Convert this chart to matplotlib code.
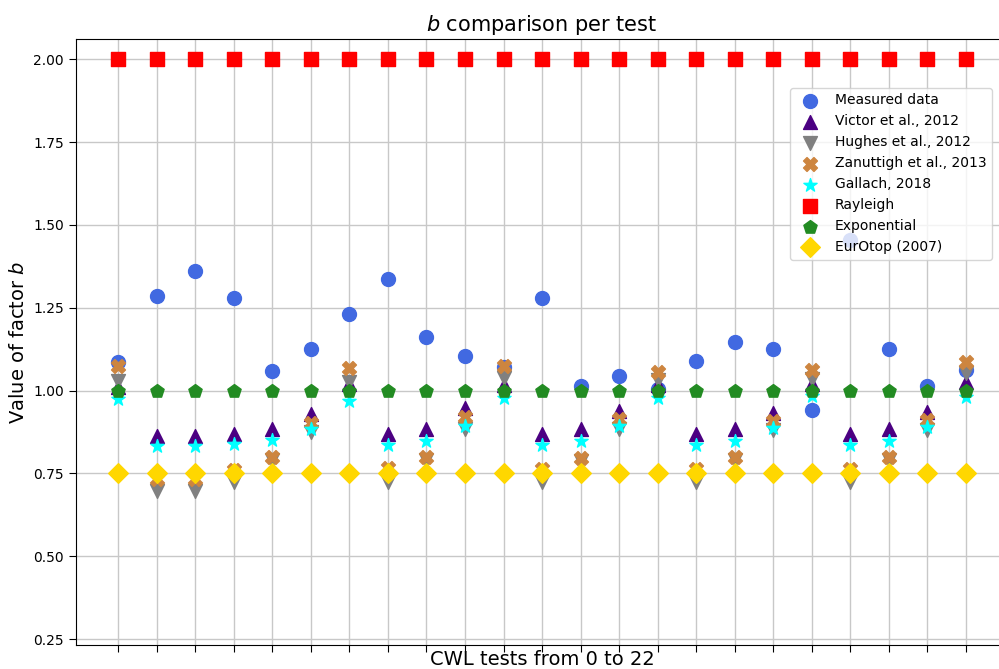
import matplotlib
matplotlib.use("Agg")
import matplotlib.pyplot as plt

# b values per CWL test (0..22)
tests = list(range(23))

measured = [1.085, 1.286, 1.361, 1.279, 1.058, 1.126, 1.231, 1.338, 1.163, 1.105, 1.072, 1.278,
            1.014, 1.043, 1.005, 1.089, 1.146, 1.124, 0.941, 1.454, 1.124, 1.014, 1.062]
victor = [1.011, 0.863, 0.863, 0.868, 0.885, 0.929, 1.020, 0.868, 0.885, 0.946, 1.016, 0.868,
          0.885, 0.939, 1.016, 0.868, 0.885, 0.931, 1.020, 0.868, 0.885, 0.936, 1.026]
hughes = [1.029, 0.696, 0.696, 0.724, 0.790, 0.875, 1.026, 0.724, 0.790, 0.885, 1.037, 0.724,
          0.787, 0.885, 1.031, 0.724, 0.790, 0.880, 1.036, 0.724, 0.790, 0.880, 1.052]
zanuttigh = [1.075, 0.734, 0.734, 0.760, 0.800, 0.902, 1.067, 0.765, 0.800, 0.920, 1.074, 0.762,
             0.797, 0.915, 1.056, 0.762, 0.800, 0.907, 1.061, 0.762, 0.800, 0.910, 1.087]
gallach = [0.974, 0.833, 0.833, 0.838, 0.850, 0.885, 0.968, 0.837, 0.848, 0.893, 0.977, 0.837,
           0.847, 0.893, 0.977, 0.837, 0.848, 0.887, 0.984, 0.837, 0.848, 0.890, 0.980]
rayleigh = [2.0, 2.0, 2.0, 2.0, 2.0, 2.0, 2.0, 2.0, 2.0, 2.0, 2.0, 2.0,
            2.0, 2.0, 2.0, 2.0, 2.0, 2.0, 2.0, 2.0, 2.0, 2.0, 2.0]
exponential = [1.0, 1.0, 1.0, 1.0, 1.0, 1.0, 1.0, 1.0, 1.0, 1.0, 1.0, 1.0,
               1.0, 1.0, 1.0, 1.0, 1.0, 1.0, 1.0, 1.0, 1.0, 1.0, 1.0]
eurotop = [0.75, 0.75, 0.75, 0.75, 0.75, 0.75, 0.75, 0.75, 0.75, 0.75, 0.75, 0.75,
           0.75, 0.75, 0.75, 0.75, 0.75, 0.75, 0.75, 0.75, 0.75, 0.75, 0.75]

series = [
    (measured, 'Measured data', 'o', 'royalblue'),
    (victor, 'Victor et al., 2012', '^', 'indigo'),
    (hughes, 'Hughes et al., 2012', 'v', 'grey'),
    (zanuttigh, 'Zanuttigh et al., 2013', 'X', 'peru'),
    (gallach, 'Gallach, 2018', '*', 'cyan'),
    (rayleigh, 'Rayleigh', 's', 'red'),
    (exponential, 'Exponential', 'p', 'forestgreen'),
    (eurotop, 'EurOtop (2007)', 'D', 'gold'),
]

fig = plt.figure(figsize=(9.99, 6.69), dpi=100)
ax = fig.add_axes([75.7 / 999, 24 / 669, 932.7 / 999, 605.7 / 669])

for vals, label, marker, color in series:
    ax.scatter(tests, vals, s=100, marker=marker, color=color, label=label, zorder=3)

ax.set_xlim(-1.1, 23.1)
ax.set_ylim(0.232, 2.06)
ax.set_xticks(tests)
ax.set_xticklabels([])
ax.set_yticks([0.25, 0.5, 0.75, 1.0, 1.25, 1.5, 1.75, 2.0])
ax.tick_params(axis='both', labelsize=10, length=5)
ax.grid(True, color='#c8c8c8', linewidth=1, zorder=0)
ax.set_axisbelow(True)

ax.set_title(r'$b$ comparison per test', fontsize=15)
ax.set_xlabel('CWL tests from 0 to 22', fontsize=14, labelpad=-5)
ax.set_ylabel(r'Value of factor $b$', fontsize=14)

ax.legend(loc='upper right', bbox_to_anchor=(999 / 999, 1 - 81 / 669),
          bbox_transform=fig.transFigure, fontsize=10)

fig.savefig('out.png', dpi=100)
